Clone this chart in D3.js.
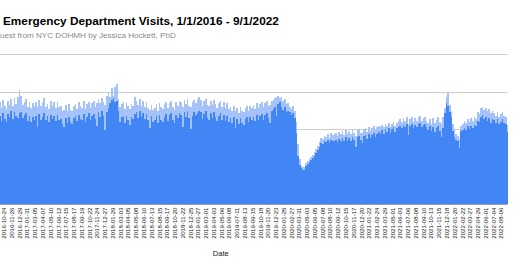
<!DOCTYPE html>
<html><head><meta charset="utf-8">
<script src="https://cdn.jsdelivr.net/npm/d3@7"></script>
<style>html,body{margin:0;padding:0;background:#fff;overflow:hidden}</style>
</head><body>
<svg id="chart" width="520" height="272"></svg>
<script>
const titleText = "Emergency Department Visits, 1/1/2016 - 9/1/2022";
const subtitleText = "uest from NYC DOHMH by Jessica Hockett, PhD";
const xTitleText = "Date";
const firstDay = new Date(Date.UTC(2016, 0, 1));
const endDay = new Date(Date.UTC(2022, 8, 2));
// week categories (visible part of the chart)
const weekStarts = d3.utcMonday.range(new Date(Date.UTC(2016, 9, 3)), endDay);
// weekly max day (light spikes) and weekly low day (solid fill)
const weeklyHigh = [
10900,10300,11100,10500,10200,11000,10600,
11200,10500,11300,10700,11400,12200,
11500,10600,10900,11200,10400,10900,10300,10800,10500,
10900,10400,11100,10500,10800,11300,10400,10700,10200,11000,10500,10900,10300,10900,10400,
10500,9900,10100,10600,10000,10700,10100,9900,10500,
10700,10200,10900,10500,10300,11000,10200,10700,10900,10300,10800,11000,10400,10800,11200,
10800,11300,10900,10600,11500,
12000,11400,12400,11600,12550,12800,
11200,10400,10700,10900,10200,10800,10500,10200,10700,10500,11400,
11000,10600,11200,10500,11000,10400,10900,10300,10100,
10600,10100,10300,10700,10000,10800,10400,10200,10700,10900,10300,10800,11000,10400,10100,10900,10500,11000,
10900,10400,11100,10700,11200,10500,10400,10900,11100,10800,11200,11400,
11100,10500,11000,11200,10600,10500,11000,10600,11100,10700,10300,10800,11000,10400,10900,10300,10800,10200,
10400,9900,10500,9900,10300,9700,10400,10000,9800,10300,10500,10000,
10500,10300,10600,10200,10800,10300,10700,10900,10400,10800,11000,10500,
10600,11000,11100,11300,11400,11500,11300,11400,11000,11200,10700,10800,
10400,10200,10500,10000,
8800,6400,4800,4100,3950,3900,4400,4600,4800,5000,5300,5600,5900,6200,6600,
7100,7000,7300,7200,7500,7100,7600,7400,7500,
7600,7300,7700,7500,7800,7400,7900,7500,7800,7500,7900,7600,7300,7900,8000,7600,
7600,8000,8100,7700,8200,7800,8100,8300,7900,8200,8400,8200,8500,
8200,8600,8300,8700,8200,8600,8800,8300,8700,8900,
9100,8800,9200,8900,9300,8600,9100,9300,8800,9200,8900,9300,9400,8900,9200,9300,
8900,8700,9100,8600,9200,8700,9000,9300,8800,8600,
9300,10300,11400,12000,10600,10000,8600,8000,7500,7300,7000,8400,8600,
8900,8700,9100,8800,9200,8900,9300,9100,
9800,9600,10300,10400,10100,10300,9900,10200,9700,10000,
9700,9400,9800,9300,9600,9800,9400,9300,8500
];
const weeklyLow = [
9400,8900,9700,9100,8800,9600,9300,
9900,9100,9800,9400,9200,9700,
9800,9200,9500,9700,8900,9400,8800,9300,9000,
9400,8200,9600,9000,9300,9700,9000,9400,8800,9500,9100,9400,8900,9500,9000,
9100,8600,8200,9200,8700,9300,8800,8600,9200,
9400,8900,9500,9100,9000,9600,8800,9300,9700,9000,9400,9600,9100,8300,9800,
9300,9900,9400,7900,9800,
10300,10800,11100,11300,10900,11000,
9900,8800,9300,9400,8700,9400,9000,8500,9300,9100,9600,
9800,9200,9900,9300,9700,9100,9600,9000,8100,
9400,8800,9000,9400,8700,9500,9000,8800,9300,9600,8900,9500,9700,9000,8700,9500,9200,9700,
9500,8200,9800,9300,9900,9200,8000,9400,9800,9500,9700,10000,
9800,9100,9600,9900,9200,9000,9700,9200,9800,9300,8900,9400,9700,9000,9500,8900,9400,8800,
9200,8700,9300,8100,9100,8600,9200,8700,8500,9100,9300,8800,
9300,9000,9300,8900,9500,9000,9400,9600,9000,9500,9700,9200,
8700,9900,10200,10400,9400,10700,10900,10400,10100,10400,9800,9900,
9800,9500,9700,9200,
7600,5200,4200,3850,3700,3650,4100,4300,4500,4700,4900,5200,5500,5800,6100,
6500,6400,6700,6600,6900,6500,6900,6800,6800,
6900,6600,7000,6800,7100,6700,7200,6800,7100,6800,7200,6900,6100,7200,7300,6900,
6500,7300,7400,7000,7500,7100,7400,7600,7200,7500,7700,7500,7900,
7500,8000,7700,8100,7600,8000,8200,7700,8100,8200,
8400,8100,8500,8200,8600,7400,8400,8600,8100,8500,8200,8600,8700,8200,8500,8600,
8200,7900,8300,7800,8200,7700,8100,8300,7800,7200,
8100,9700,10800,10500,9800,9300,7800,7200,6900,6700,6000,7800,7900,
8100,7900,8300,8000,8400,8100,8500,8300,
8900,8800,9300,9500,9100,9300,8900,9200,8700,9100,
9000,8700,9100,8600,8800,9100,8700,8600,7700
];
const yTicks = [0, 4000, 8000, 12000, 16000];
// date labels every 33 days (visible ones)
const tickDates = d3.range(9, 74).map(k => d3.utcDay.offset(firstDay, 33 * k));

const svg = d3.select("#chart");
const x = d3.scaleUtc().domain([firstDay, endDay]).range([-66.05, 507.5]);
const y = d3.scaleLinear().domain([0, 16000]).range([204.3, 54.3]);
const dayW = x(d3.utcDay.offset(firstDay, 1)) - x(firstDay);
const fmt = d3.utcFormat("%Y-%m-%d");

const font = "'Liberation Sans', Arial, sans-serif";

svg.append("text").attr("x", 3).attr("y", 25)
  .attr("font-family", font).attr("font-weight", "bold").attr("font-size", 11.8)
  .attr("fill", "#000").text(titleText);
svg.append("text").attr("x", 0).attr("y", 37.7)
  .attr("font-family", font).attr("font-size", 8.1)
  .attr("fill", "#8a8a8a").text(subtitleText);

// gridlines
svg.append("g").selectAll("line").data(yTicks.slice(1)).join("line")
  .attr("x1", 0).attr("x2", 507.5)
  .attr("y1", d => Math.round(y(d)) + 0.5).attr("y2", d => Math.round(y(d)) + 0.5)
  .attr("stroke", "#cccccc").attr("stroke-width", 1);

const rows = weekStarts.map((d, i) => ({
  start: d,
  end: d3.min([d3.utcDay.offset(d, 7), endDay]),
  hi: weeklyHigh[i], lo: weeklyLow[i]
}));

svg.append("g").attr("shape-rendering", "crispEdges").selectAll("rect").data(rows).join("rect")
  .attr("x", d => x(d.start)).attr("width", d => x(d.end) - x(d.start))
  .attr("y", d => y(d.hi)).attr("height", d => y(0) - y(d.hi))
  .attr("fill", "#a6c3f9");
svg.append("g").attr("shape-rendering", "crispEdges").selectAll("rect").data(rows).join("rect")
  .attr("x", d => x(d.start)).attr("width", d => x(d.end) - x(d.start))
  .attr("y", d => y(d.lo)).attr("height", d => y(0) - y(d.lo))
  .attr("fill", "#4285f4");

// baseline
svg.append("line").attr("x1", 0).attr("x2", 507.5).attr("y1", 204.5).attr("y2", 204.5)
  .attr("stroke", "#9e9e9e").attr("stroke-width", 1);

// x tick labels
svg.append("g").selectAll("text").data(tickDates).join("text")
  .attr("transform", d => `translate(${x(d) + dayW / 2},207.5) rotate(-90)`)
  .attr("text-anchor", "end").attr("dy", "0.35em")
  .attr("font-family", font).attr("font-size", 6.1).attr("fill", "#222")
  .text(d => fmt(d));

svg.append("text").attr("x", (x.range()[0] + x.range()[1]) / 2).attr("y", 256)
  .attr("text-anchor", "middle").attr("font-family", font).attr("font-size", 7.5)
  .attr("fill", "#222").text(xTitleText);
</script>
</body></html>
